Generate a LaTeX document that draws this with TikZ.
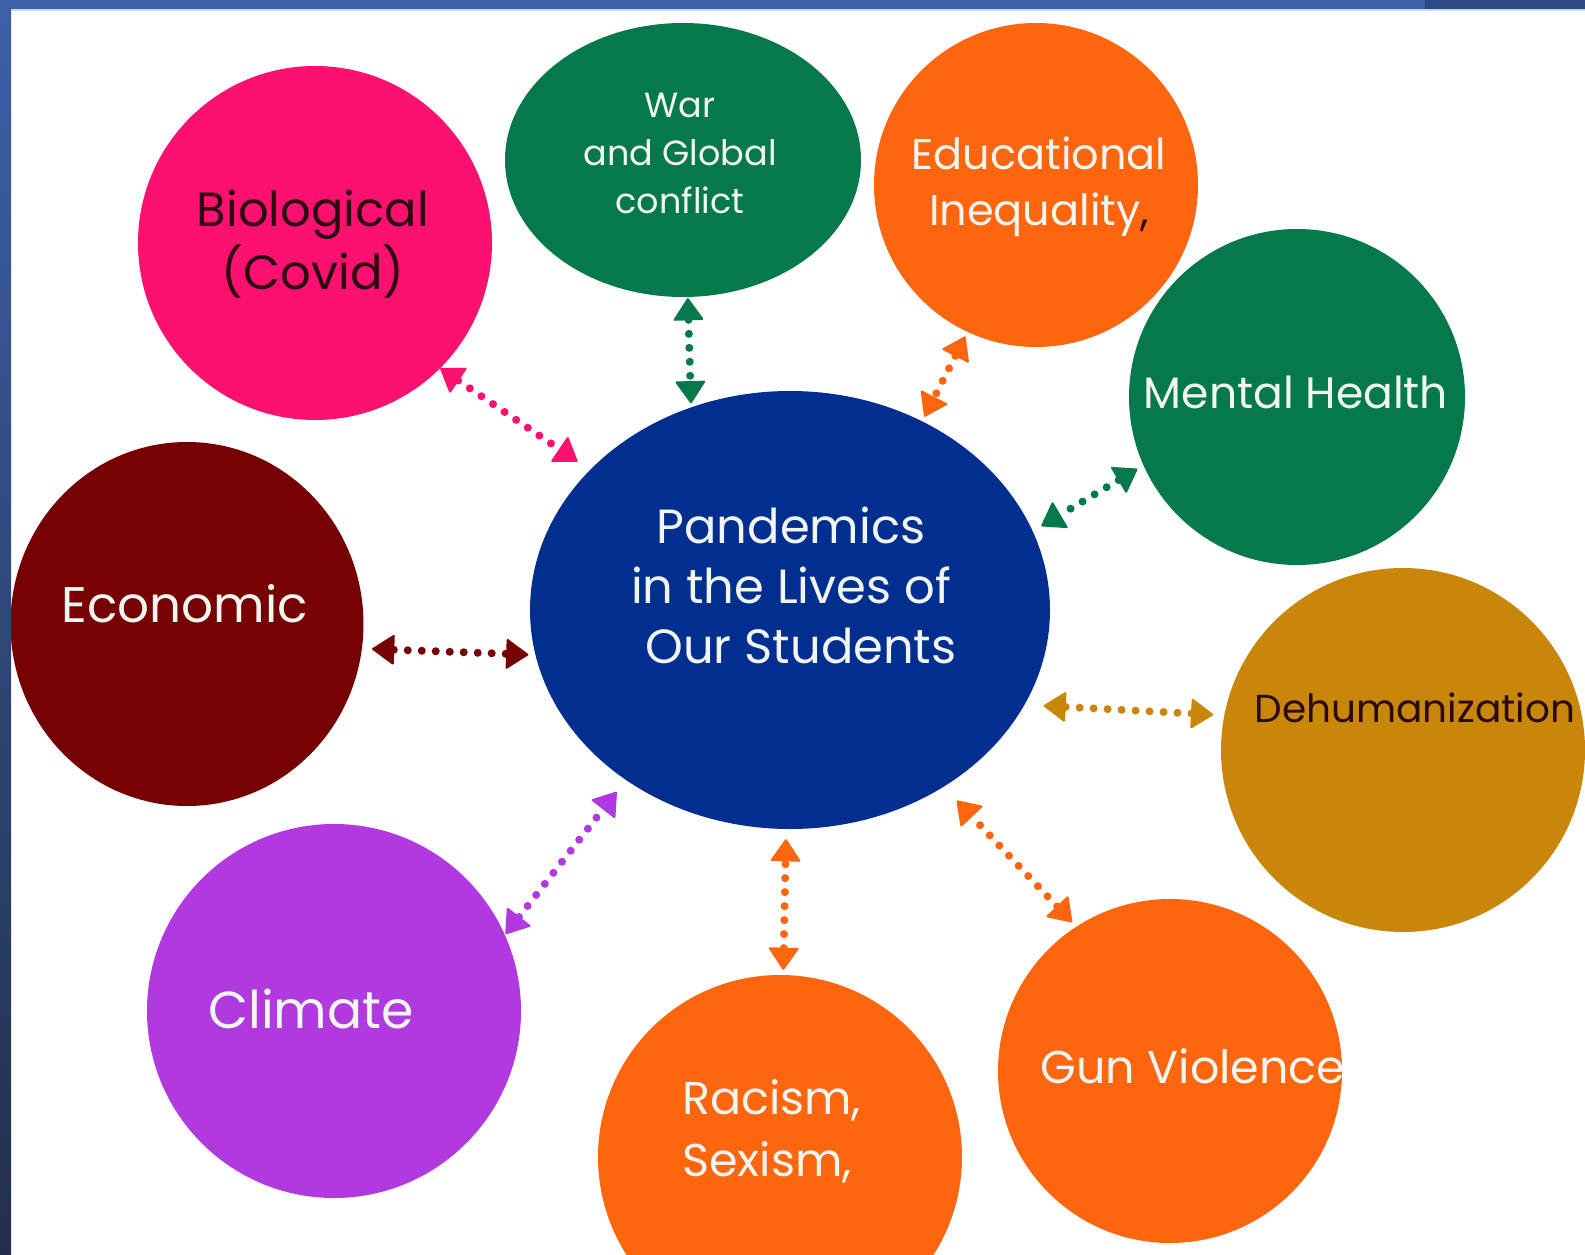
\documentclass[tikz,border=0pt]{standalone}
\usepackage{fontspec}
\setmainfont{Poppins}
\usetikzlibrary{shapes.geometric,arrows.meta}

\definecolor{pinkc}{HTML}{FC1070}
\definecolor{greenc}{HTML}{06794C}
\definecolor{orangec}{HTML}{FE650F}
\definecolor{goldc}{HTML}{C98709}
\definecolor{purplec}{HTML}{B03AE0}
\definecolor{maroonc}{HTML}{760103}
\definecolor{navyc}{HTML}{022F8F}
\definecolor{textlight}{HTML}{F2F6F0}
\definecolor{textdark}{HTML}{2A0A10}
\definecolor{frametop}{HTML}{3C60A8}
\definecolor{framebot}{HTML}{222F4A}
\definecolor{framedark}{HTML}{2E4A85}
\definecolor{framelight}{HTML}{C4DAF0}

\tikzset{
  bubble/.style={circle,inner sep=0pt,minimum size=#1},
  txt/.style={align=center,text=textlight,inner sep=0pt},
  link/.style={draw=#1,line width=8pt,line cap=round,dash pattern=on 0pt off 14pt,
    {Triangle[length=23pt,width=31pt,line width=2pt,round]}-{Triangle[length=23pt,width=31pt,line width=2pt,round]}}
}

\begin{document}
\begin{tikzpicture}[x=1pt,y=-1pt]
\useasboundingbox (0,0) rectangle (1585,1255);
\fill[white] (0,0) rectangle (1585,1255);
\clip (0,0) rectangle (1585,1255);

% bubbles
\node[bubble=354pt,fill=pinkc] (bio) at (315,243) {};
\node[ellipse,inner sep=0pt,minimum width=356pt,minimum height=274pt,fill=greenc] (war) at (683,160) {};
\node[bubble=324pt,fill=orangec] (edu) at (1036,185) {};
\node[bubble=336pt,fill=greenc] (mental) at (1297,397) {};
\node[ellipse,inner sep=0pt,minimum width=353pt,minimum height=364pt,fill=maroonc] (econ) at (187,624) {};
\node[bubble=364pt,fill=goldc] (dehum) at (1403,750) {};
\node[bubble=374pt,fill=purplec] (clim) at (334,1011) {};
\node[bubble=364pt,fill=orangec] (racism) at (780,1157) {};
\node[bubble=344pt,fill=orangec] (gun) at (1170,1071) {};
\node[ellipse,inner sep=0pt,minimum width=520pt,minimum height=438pt,fill=navyc] (core) at (790,610) {};

% texts
\node[txt,text=textdark,font=\fontsize{48}{63}\selectfont] (bio-t) at (313,244) {Biological\\(Covid)};
\node[txt,font=\fontsize{35}{48}\selectfont] (war-t) at (680,153) {War\\and Global\\conflict};
\node[txt,font=\fontsize{43}{56}\selectfont] (edu-t) at (1039,187) {Educational\\Inequality{\color{textdark},}};
\node[txt,font=\fontsize{44}{50}\selectfont] (mental-t) at (1296,392) {Mental Health};
\node[txt,font=\fontsize{50}{50}\selectfont] (econ-t) at (185,604) {Economic};
\node[txt,font=\fontsize{48}{60}\selectfont] (core-t) at (791,585) {Pandemics\\in the Lives of\\\hspace*{20pt}Our Students};
\node[txt,text=textdark,font=\fontsize{39}{50}\selectfont] (dehum-t) at (1415,708) {Dehumanization};
\node[txt,font=\fontsize{52}{50}\selectfont] (clim-t) at (311,1009) {Climate};
\node[txt,align=left,anchor=west,font=\fontsize{46}{62}\selectfont] (racism-t) at (682,1131) {Racism,\\Sexism,};
\node[txt,font=\fontsize{46}{50}\selectfont] (gun-t) at (1193,1066) {Gun Violence};

% arrows
\draw[link=pinkc,shorten >=15pt] (bio.-45) -- (core.145.5);
\draw[link=greenc,shorten <=1pt,shorten >=4pt] (war.-88.3) -- (core.116.6);
\draw[link=orangec,shorten <=5pt,shorten >=5pt] (edu.-115.2) -- (core.55.8);
\draw[link=greenc,shorten <=7pt,shorten >=10pt] (mental.-156.4) -- (core.18.5);
\draw[link=maroonc,shorten <=10pt,shorten >=7pt] (econ.-8.6) -- (core.-170.3);
\draw[link=goldc,shorten <=11pt,shorten >=19pt] (dehum.169) -- (core.-22.3);
\draw[link=purplec,shorten <=1pt,shorten >=15pt] (clim.24.8) -- (core.-134.4);
\draw[link=orangec,shorten <=5pt,shorten >=10pt] (racism.89) -- (core.-91.75);
\draw[link=orangec,shorten <=6pt,shorten >=19pt] (gun.123.3) -- (core.-49.3);

% frame
\shade[top color=frametop,bottom color=framebot] (0,0) rectangle (11,1255);
\fill[frametop] (0,0) rectangle (1425,9);
\fill[framedark] (1425,0) rectangle (1585,9);
\draw[framelight,line width=1.5pt] (11,10) -- (1585,10);
\end{tikzpicture}
\end{document}
